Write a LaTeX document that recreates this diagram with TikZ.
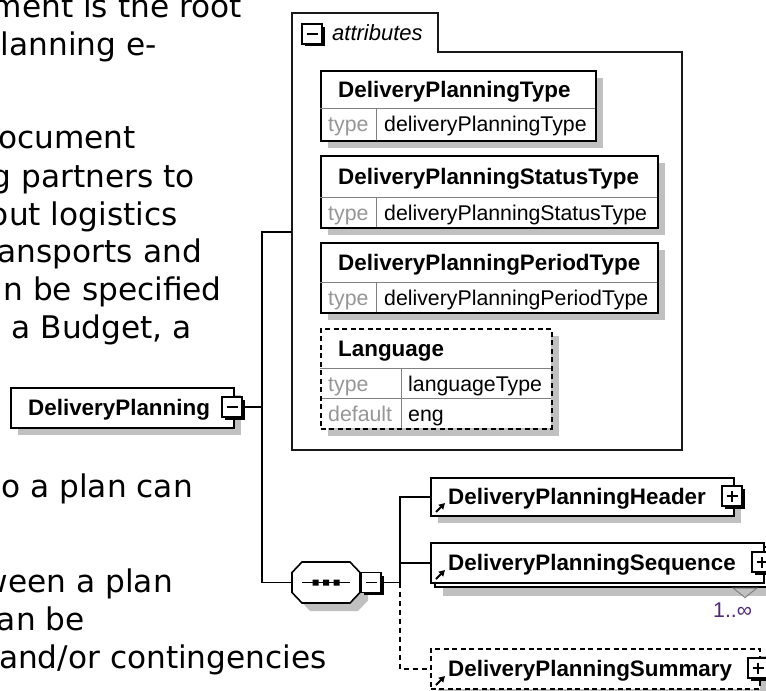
\documentclass[tikz,border=0pt]{standalone}
\usepackage{fontspec}
\setmainfont{Liberation Sans}
\newfontfamily\parafont{DejaVu Sans}
\usetikzlibrary{arrows.meta}
\definecolor{shadowgray}{RGB}{192,192,192}
\definecolor{labelgray}{RGB}{150,150,150}
\definecolor{divgray}{RGB}{128,128,128}
\definecolor{occpurple}{RGB}{80,40,120}
\newcommand\pmbox[4]{%
  \fill[black] (#2-7,#3-7) rectangle (#2+12.5,#3+12.5);
  \node[pm] (#1) at (#2,#3) {};
  \draw[pmline] ([xshift=-5.5bp]#1.center) -- ([xshift=5.5bp]#1.center);
  \ifnum#4=1 \draw[pmline] ([yshift=-5.5bp]#1.center) -- ([yshift=5.5bp]#1.center);\fi
}
\newcommand\refarrow[2]{%
  \draw[line width=2bp, -{Triangle[length=6bp,width=6.5bp]}] (#1+6,#2-3) -- (#1+15,#2-12);
}
\begin{document}
\begin{tikzpicture}[x=1bp,y=-1bp,
  conn/.style={line width=1.6bp, black},
  ebox/.style={draw=black, fill=white, line width=1.6bp, inner sep=0, rectangle},
  optdash/.style={dash pattern=on 5bp off 3.5bp},
  shadowbox/.style={fill=shadowgray, draw=none},
  pm/.style={draw=black, fill=white, line width=1.4bp, minimum size=20bp, inner sep=0},
  pmline/.style={line width=1.4bp},
  etext/.style={font=\fontsize{22.4bp}{26bp}\selectfont\bfseries, inner sep=0, anchor=base west},
  vtext/.style={font=\fontsize{21.3bp}{25bp}\selectfont, inner sep=0, anchor=base west},
  ltext/.style={vtext, text=labelgray},
  para/.style={font=\parafont\fontsize{31.2bp}{37bp}\selectfont, inner sep=0, anchor=base east},
  divider/.style={draw=divgray, line width=1bp},
]
\useasboundingbox (0,0) rectangle (766,691);
\fill[white] (0,0) rectangle (766,691);
\clip (0,0) rectangle (766,691);

% ---------- paragraph text (cropped at the left) ----------
\node[para] (p1) at (242,18) {ment is the root};
\node[para] (p2) at (157,56) {lanning e-};
\node[para] (p3) at (136,149) {ocument};
\node[para] (p4) at (195,187) {g partners to};
\node[para] (p5) at (178,225) {out logistics};
\node[para] (p6) at (202,262) {ansports and};
\node[para] (p7) at (222,300) {n be specified};
\node[para] (p8) at (192,338) {a Budget, a};
\node[para] (p9) at (193,497) {o a plan can};
\node[para] (p10) at (173,592) {ween a plan};
\node[para] (p11) at (85,630) {an be};
\node[para] (p12) at (327,668) {and/or contingencies};

% ---------- root element ----------
\fill[shadowbox] (18,395) rectangle (241,435);
\node[ebox, minimum width=223bp, minimum height=40bp, anchor=north west] (dp) at (10,387) {};
\node[etext] (dptext) at (28,415) {DeliveryPlanning};
\pmbox{dpminus}{232}{407}{0}

% ---------- attributes group ----------
\draw[line width=1.5bp, black!90] (292,450) -- (292,13) -- (438,13) -- (438,52) -- (682,52) -- (682,450) -- cycle;
\coordinate (attrin) at (292,232);
\pmbox{attrminus}{312}{34}{0}
\node[vtext, font=\fontsize{22bp}{26bp}\selectfont\itshape] (attrtext) at (332,41) {attributes};

% DeliveryPlanningType
\fill[shadowbox] (328,78) rectangle (603,148);
\node[ebox, minimum width=275bp, minimum height=70bp, anchor=north west] (a1) at (320,70) {};
\draw[divider] (320,109) -- (595,109) (376,109) -- (376,140);
\node[etext] (a1t) at (338,97.5) {DeliveryPlanningType};
\node[ltext] (a1l) at (328,132) {type};
\node[vtext] (a1v) at (384,132) {deliveryPlanningType};

% DeliveryPlanningStatusType
\fill[shadowbox] (328,163) rectangle (665,235);
\node[ebox, minimum width=337bp, minimum height=72bp, anchor=north west] (a2) at (320,155) {};
\draw[divider] (320,197) -- (657,197) (376,197) -- (376,227);
\node[etext] (a2t) at (338,184) {DeliveryPlanningStatusType};
\node[ltext] (a2l) at (328,220) {type};
\node[vtext] (a2v) at (384,220) {deliveryPlanningStatusType};

% DeliveryPlanningPeriodType
\fill[shadowbox] (328,250) rectangle (665,320);
\node[ebox, minimum width=337bp, minimum height=70bp, anchor=north west] (a3) at (320,242) {};
\draw[divider] (320,282) -- (657,282) (376,282) -- (376,312);
\node[etext] (a3t) at (338,270) {DeliveryPlanningPeriodType};
\node[ltext] (a3l) at (328,305) {type};
\node[vtext] (a3v) at (384,305) {deliveryPlanningPeriodType};

% Language (optional)
\fill[shadowbox] (328,336) rectangle (559,436);
\fill[white] (320,328) rectangle (551,428);
\draw[divider] (320,368) -- (551,368) (320,398) -- (551,398) (401,368) -- (401,428);
\node[ebox, fill=none, optdash, minimum width=231bp, minimum height=100bp, anchor=north west] (a4) at (320,328) {};
\node[etext] (a4t) at (338,356) {Language};
\node[ltext] (a4l1) at (328,391) {type};
\node[vtext] (a4v1) at (408,391) {languageType};
\node[ltext] (a4l2) at (328,421) {default};
\node[vtext] (a4v2) at (408,421) {eng};

% ---------- sequence compositor ----------
\fill[shadowbox] (300,580.5) -- (310,570) -- (358,570) -- (368,580.5) -- (368,600.5) -- (358,611) -- (310,611) -- (300,600.5) -- cycle;
\node[inner sep=0, minimum width=68bp, minimum height=41bp] (comp) at (326,582.5) {};
\draw[ebox] (292,572.5) -- (302,562) -- (350,562) -- (360,572.5) -- (360,592.5) -- (350,603) -- (302,603) -- (292,592.5) -- cycle;
\draw[line width=1.3bp] (302,582.5) -- (350,582.5);
\fill (312.5,579.5) rectangle (318.5,585.5) (323,579.5) rectangle (329,585.5) (333.5,579.5) rectangle (339.5,585.5);
\pmbox{compminus}{371}{582.5}{0}

% ---------- child elements ----------
% header
\fill[shadowbox] (438,485) rectangle (741,523);
\node[ebox, minimum width=303bp, minimum height=38bp, anchor=north west] (hdr) at (430,477) {};
\node[etext] (hdrtext) at (448,504) {DeliveryPlanningHeader};
\refarrow{430}{515}
\pmbox{hdrplus}{732}{496}{1}

% sequence (1..oo)
\fill[shadowbox] (443,557) rectangle (776,596);
\draw[ebox] (435,547) rectangle (768,587);
\node[ebox, minimum width=333bp, minimum height=40bp, anchor=north west] (seq) at (430,542) {};
\node[etext] (seqtext) at (448,570) {DeliveryPlanningSequence};
\refarrow{430}{582}
\pmbox{seqplus}{762}{562}{1}
\draw[divgray, line width=1bp] (733,588) -- (757,588) -- (745,597.5) -- cycle;
\node[vtext, text=occpurple] (occ) at (713,617) {1..∞};

% summary (optional)
\fill[shadowbox] (438,656) rectangle (767,696);
\node[ebox, optdash, minimum width=329bp, minimum height=40bp, anchor=north west] (sum) at (430,648) {};
\node[etext] (sumtext) at (448,676) {DeliveryPlanningSummary};
\refarrow{430}{688}
\pmbox{sumplus}{758}{668}{1}

% ---------- connectors ----------
\coordinate (trunkj) at (262,407);
\coordinate (trunktop) at (262,232);
\coordinate (trunkbot) at (262,582.5);
\coordinate (fork) at (400,582.5);
\draw[conn] (dpminus.east) -- (trunkj);
\draw[conn] (attrin) -- (trunktop) -- (trunkbot) -- (comp.west);
\draw[conn] (compminus.east) -- (fork);
\draw[conn] (fork) |- (hdr.west);
\draw[conn] (seq.west -| fork) -- (seq.west);
\draw[conn, dash pattern=on 5bp off 4bp] (fork) |- (sum.west);
\end{tikzpicture}
\end{document}
